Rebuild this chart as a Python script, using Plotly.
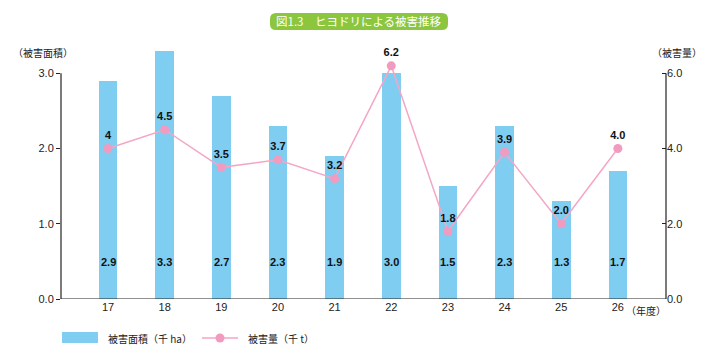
import plotly.graph_objects as go

years = [17, 18, 19, 20, 21, 22, 23, 24, 25, 26]
year_labels = ["17", "18", "19", "20", "21", "22", "23", "24", "25", "26"]
area = [2.9, 3.3, 2.7, 2.3, 1.9, 3.0, 1.5, 2.3, 1.3, 1.7]
area_labels = ["2.9", "3.3", "2.7", "2.3", "1.9", "3.0", "1.5", "2.3", "1.3", "1.7"]
amount = [4.0, 4.5, 3.5, 3.7, 3.2, 6.2, 1.8, 3.9, 2.0, 4.0]
amount_labels = ["4", "4.5", "3.5", "3.7", "3.2", "6.2", "1.8", "3.9", "2.0", "4.0"]
left_ticks = [0, 1, 2, 3]
right_ticks = [0, 2, 4, 6]
area_name = "被害面積（千 ha）"
amount_name = "被害量（千 t）"

FONT = "Arial, 'Liberation Sans', 'Noto Sans CJK JP', sans-serif"
JFONT = "'Noto Sans CJK JP', Arial, sans-serif"
BAR_COLOR = "#7fcdf1"
LINE_COLOR = "#f4a6c6"
MARK_COLOR = "#f29bc0"

W, H = 719, 359
l, r, t, b = 61, 53, 47, 60
pw, ph = W - l - r, H - t - b
def px(x):
    return (x - l) / pw
def py(y):
    return (H - b - y) / ph

fig = go.Figure()
fig.add_trace(go.Bar(
    x=years, y=area, name=area_name,
    marker=dict(color=BAR_COLOR, line=dict(width=0)),
    width=0.33, yaxis="y", showlegend=False,
))
fig.add_trace(go.Scatter(
    x=years, y=amount, name=amount_name,
    mode="lines+markers+text",
    text=amount_labels, textposition="top center",
    textfont=dict(family=FONT, size=11, color="#111111", weight="bold"),
    line=dict(color=LINE_COLOR, width=1.5),
    marker=dict(color=MARK_COLOR, size=9),
    yaxis="y2", cliponaxis=False, showlegend=False,
))

annotations = []
for xv, lab in zip(years, area_labels):
    annotations.append(dict(
        x=xv, y=0, xref="x", yref="y", text=lab, showarrow=False,
        yshift=37, font=dict(family=FONT, size=11, color="#111111", weight="bold"),
    ))
annotations += [
    dict(x=px(43), y=py(52), xref="paper", yref="paper", text="（被害面積）",
         showarrow=False, xanchor="center", yanchor="middle",
         font=dict(family=JFONT, size=10, color="#222222")),
    dict(x=px(677), y=py(52), xref="paper", yref="paper", text="（被害量）",
         showarrow=False, xanchor="center", yanchor="middle",
         font=dict(family=JFONT, size=10, color="#222222")),
    dict(x=26, y=0, xref="x", yref="y", text="（年度）", showarrow=False,
         xanchor="left", yanchor="top", xshift=6, yshift=-2,
         font=dict(family=JFONT, size=10, color="#222222")),
    dict(x=px(106), y=py(338), xref="paper", yref="paper", text=area_name,
         showarrow=False, xanchor="left", yanchor="middle",
         font=dict(family=JFONT, size=10, color="#222222")),
    dict(x=px(246), y=py(338), xref="paper", yref="paper", text=amount_name,
         showarrow=False, xanchor="left", yanchor="middle",
         font=dict(family=JFONT, size=10, color="#222222")),
]

shapes = [
    dict(type="line", xref="paper", yref="y", x0=0, x1=0, y0=0, y1=3,
         line=dict(color="#222222", width=1.2)),
    dict(type="line", xref="paper", yref="y", x0=1, x1=1, y0=0, y1=3,
         line=dict(color="#222222", width=1.2)),
    dict(type="line", xref="paper", yref="y", x0=0, x1=1, y0=0, y1=0,
         line=dict(color="#222222", width=1.2)),
    dict(type="rect", xref="paper", yref="paper", x0=px(62), x1=px(98),
         y0=py(343), y1=py(332), fillcolor=BAR_COLOR, line=dict(width=0)),
    dict(type="line", xref="paper", yref="paper", x0=px(202), x1=px(238),
         y0=py(338), y1=py(338), line=dict(color=LINE_COLOR, width=1.5)),
    dict(type="circle", xref="paper", yref="paper", x0=px(215.5), x1=px(224.5),
         y0=py(342.5), y1=py(333.5), fillcolor=MARK_COLOR, line=dict(width=0)),
]

fig.update_layout(
    width=W, height=H,
    margin=dict(l=l, r=r, t=t, b=b, autoexpand=False),
    paper_bgcolor="white", plot_bgcolor="white",
    font=dict(family=FONT, size=11, color="#222222"),
    showlegend=False,
    bargap=0,
    xaxis=dict(range=[16.17, 26.85], tickvals=years, ticktext=year_labels,
               showgrid=False, zeroline=False, showline=False, ticks="",
               automargin=False,
               tickfont=dict(family=FONT, size=11, color="#222222")),
    yaxis=dict(range=[0, 3.35], tickvals=left_ticks,
               ticktext=[f"{v:.1f}" for v in left_ticks],
               showgrid=False, zeroline=False, showline=False, automargin=False,
               ticks="outside", ticklen=4, tickcolor="#222222",
               tickfont=dict(family=FONT, size=11, color="#222222")),
    yaxis2=dict(range=[0, 6.7], tickvals=right_ticks,
                ticktext=[f"{v:.1f}" for v in right_ticks],
                overlaying="y", side="right", automargin=False,
                showgrid=False, zeroline=False, showline=False,
                ticks="inside", ticklen=4, tickcolor="#222222",
                tickfont=dict(family=FONT, size=11, color="#222222")),
    annotations=annotations,
    shapes=shapes,
)

x0, x1, y0, y1, rad = 270, 448, 13, 30, 6
path = (f"M {px(x0+rad)},{py(y0)} L {px(x1-rad)},{py(y0)} "
        f"Q {px(x1)},{py(y0)} {px(x1)},{py(y0+rad)} L {px(x1)},{py(y1-rad)} "
        f"Q {px(x1)},{py(y1)} {px(x1-rad)},{py(y1)} L {px(x0+rad)},{py(y1)} "
        f"Q {px(x0)},{py(y1)} {px(x0)},{py(y1-rad)} L {px(x0)},{py(y0+rad)} "
        f"Q {px(x0)},{py(y0)} {px(x0+rad)},{py(y0)} Z")
fig.add_shape(type="path", path=path, xref="paper", yref="paper",
              fillcolor="#8cc63e", line=dict(width=0), layer="below")
fig.add_annotation(x=px((x0 + x1) / 2), y=py((y0 + y1) / 2), xref="paper", yref="paper",
                   text="図1.3　ヒヨドリによる被害推移", showarrow=False,
                   xanchor="center", yanchor="middle",
                   font=dict(family=JFONT, size=11.5, color="white"))

fig.write_html("out.html",
               config={"displayModeBar": False},
               post_script="document.body.style.margin='0';document.body.style.overflow='hidden';")
